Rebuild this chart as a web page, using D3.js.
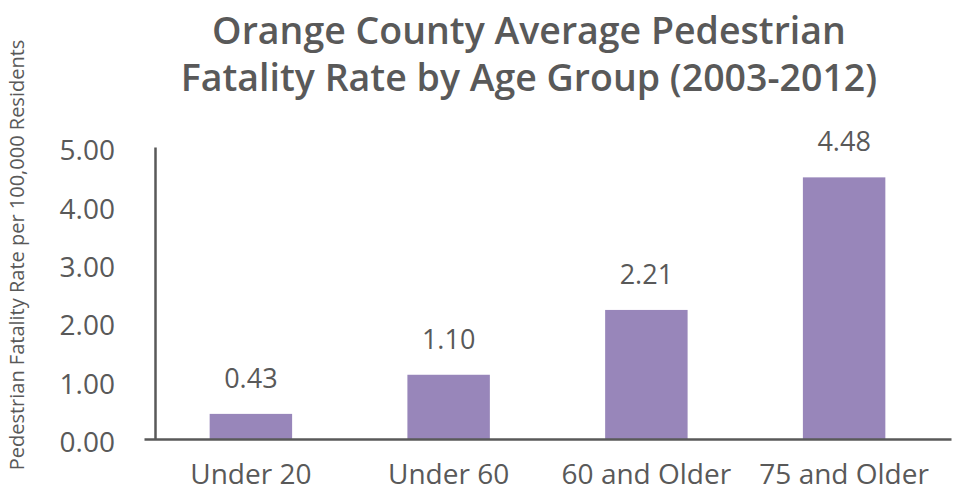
<!DOCTYPE html>
<html>
<head>
<meta charset="utf-8">
<script src="https://cdn.jsdelivr.net/npm/d3@7"></script>
<style>
  body { margin: 0; background: #fff; }
  text { font-family: "Open Sans", sans-serif; fill: #595959; }
</style>
</head>
<body>
<div id="chart-area"></div>
<script>
var ageGroups = ["Under 20", "Under 60", "60 and Older", "75 and Older"];
var rates = [0.43, 1.10, 2.21, 4.48];
var yTicks = [0, 1, 2, 3, 4, 5];
var titleLines = ["Orange County Average Pedestrian", "Fatality Rate by Age Group (2003-2012)"];
var yLabel = "Pedestrian Fatality Rate per 100,000 Residents";

var width = 959, height = 491;
var axisColor = "#595959";

var svg = d3.select("#chart-area")
    .append("svg")
        .attr("width", width)
        .attr("height", height);

// title
svg.append("text")
    .attr("x", 529)
    .attr("y", 44)
    .attr("text-anchor", "middle")
    .attr("font-size", "37.5px")
    .attr("font-weight", "600")
    .selectAll("tspan")
    .data(titleLines)
    .enter()
    .append("tspan")
        .attr("x", 529)
        .attr("dy", function(d, i) { return i == 0 ? 0 : 47; })
        .text(function(d) { return d; });

// y axis label
svg.append("text")
    .attr("transform", "translate(24, 255) rotate(-90)")
    .attr("text-anchor", "middle")
    .attr("font-size", "20px")
    .text(yLabel);

var xScale = d3.scaleBand()
    .domain(ageGroups)
    .range([144, 951])
    .paddingInner(0.583)
    .paddingOuter(0.332);

var yScale = d3.scaleLinear()
    .domain([0, 5])
    .range([439, 147]);

// bars
svg.selectAll("rect.bar")
    .data(rates)
    .enter()
    .append("rect")
        .attr("class", "bar")
        .attr("x", function(d, i) { return xScale(ageGroups[i]); })
        .attr("y", function(d) { return yScale(d); })
        .attr("width", xScale.bandwidth())
        .attr("height", function(d) { return yScale(0) - yScale(d); })
        .attr("fill", "#9886ba");

// value labels
svg.selectAll("text.value")
    .data(rates)
    .enter()
    .append("text")
        .attr("class", "value")
        .attr("x", function(d, i) { return xScale(ageGroups[i]) + xScale.bandwidth() / 2; })
        .attr("y", function(d) { return yScale(d) - 26; })
        .attr("text-anchor", "middle")
        .attr("font-size", "27px")
        .text(function(d) { return d3.format(".2f")(d); });

// y axis
var yAxisCall = d3.axisLeft(yScale)
    .tickValues(yTicks)
    .tickSize(0)
    .tickPadding(40)
    .tickFormat(d3.format(".2f"));

var yAxis = svg.append("g")
    .attr("class", "y-axis")
    .attr("transform", "translate(155, 0)")
    .call(yAxisCall);
yAxis.select(".domain")
    .attr("stroke", axisColor)
    .attr("stroke-width", 2.5);
yAxis.selectAll("text")
    .attr("font-size", "28px")
    .attr("font-family", "Open Sans, sans-serif")
    .attr("fill", "#595959")
    .attr("dy", "0.45em");

// x axis
var xAxisCall = d3.axisBottom(xScale)
    .tickSize(0)
    .tickPadding(25);

var xAxis = svg.append("g")
    .attr("class", "x-axis")
    .attr("transform", "translate(0, 439)")
    .call(xAxisCall);
xAxis.select(".domain")
    .attr("stroke", axisColor)
    .attr("stroke-width", 2.5);
xAxis.selectAll("text")
    .attr("font-size", "28px")
    .attr("font-family", "Open Sans, sans-serif")
    .attr("fill", "#595959")
    .attr("dy", "0.71em");
</script>
</body>
</html>
